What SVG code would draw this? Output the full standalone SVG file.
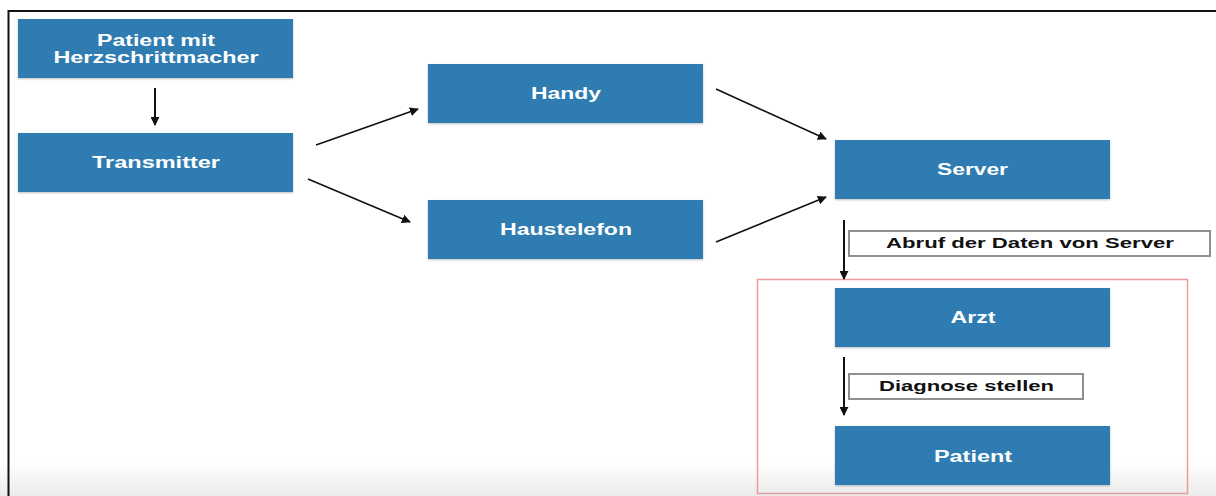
<svg xmlns="http://www.w3.org/2000/svg" width="1216" height="496" viewBox="0 0 1216 496">
  <style>
    .node rect { fill: #2f7bb1; }
    .node text { fill: #ffffff; font-family: "Liberation Sans", Arial, sans-serif; font-weight: bold; font-size: 16px; text-anchor: middle; }
    .edge { stroke: #111; stroke-width: 1.6; fill: none; marker-end: url(#arrow); }
    .edge.v { stroke-width: 2; }
    .tag rect { fill: #ffffff; stroke: #8f8f8f; stroke-width: 2; }
    .tag text { fill: #111; font-family: "Liberation Sans", Arial, sans-serif; font-weight: bold; font-size: 15.5px; text-anchor: middle; }
  </style>
  <defs>
    <marker id="arrow" viewBox="0 0 10 10" refX="9" refY="5" markerWidth="9" markerHeight="9" markerUnits="userSpaceOnUse" orient="auto">
      <path d="M0,0 L10,5 L0,10 z" fill="#111"/>
    </marker>
    <linearGradient id="floor" x1="0" y1="0" x2="0" y2="1">
      <stop offset="0" stop-color="#ffffff"/>
      <stop offset="1" stop-color="#ebebeb"/>
    </linearGradient>
    <filter id="shadow" x="-5%" y="-10%" width="110%" height="130%">
      <feDropShadow dx="0" dy="1" stdDeviation="1" flood-color="#000" flood-opacity="0.25"/>
    </filter>
  </defs>

  <rect x="0" y="0" width="1216" height="496" fill="#ffffff"/>
  <rect x="0" y="462" width="1216" height="34" fill="url(#floor)"/>

  <!-- page frame -->
  <path d="M8.5,496 L8.5,11 L1216,11" stroke="#111" stroke-width="2" fill="none"/>

  <!-- highlight around doctor and patient -->
  <rect x="757.5" y="279.5" width="430" height="214" fill="none" stroke="#eb9d9d" stroke-width="1.5"/>

  <g id="n-patient-hsm" class="node">
    <rect x="18" y="19" width="275" height="59" filter="url(#shadow)"/>
    <text x="156" y="46" textLength="118" lengthAdjust="spacingAndGlyphs">Patient mit</text>
    <text x="156" y="63" textLength="205" lengthAdjust="spacingAndGlyphs">Herzschrittmacher</text>
  </g>
  <g id="n-transmitter" class="node">
    <rect x="18" y="133" width="275" height="59" filter="url(#shadow)"/>
    <text x="156" y="168" textLength="128" lengthAdjust="spacingAndGlyphs">Transmitter</text>
  </g>
  <g id="n-handy" class="node">
    <rect x="428" y="64" width="275" height="59" filter="url(#shadow)"/>
    <text x="566" y="99" textLength="70" lengthAdjust="spacingAndGlyphs">Handy</text>
  </g>
  <g id="n-haustelefon" class="node">
    <rect x="428" y="200" width="275" height="59" filter="url(#shadow)"/>
    <text x="566" y="235" textLength="132" lengthAdjust="spacingAndGlyphs">Haustelefon</text>
  </g>
  <g id="n-server" class="node">
    <rect x="835" y="140" width="275" height="59" filter="url(#shadow)"/>
    <text x="972.5" y="175" textLength="71" lengthAdjust="spacingAndGlyphs">Server</text>
  </g>
  <g id="n-arzt" class="node">
    <rect x="835" y="288" width="275" height="59" filter="url(#shadow)"/>
    <text x="973" y="323" textLength="45" lengthAdjust="spacingAndGlyphs">Arzt</text>
  </g>
  <g id="n-patient" class="node">
    <rect x="835" y="426" width="275" height="59" filter="url(#shadow)"/>
    <text x="973" y="462" textLength="78" lengthAdjust="spacingAndGlyphs">Patient</text>
  </g>

  <g id="connectors">
    <line class="edge v" x1="155" y1="88" x2="155" y2="125"/>
    <line class="edge" x1="316" y1="145" x2="418" y2="109"/>
    <line class="edge" x1="308" y1="179" x2="410" y2="222"/>
    <line class="edge" x1="716" y1="89" x2="826" y2="139"/>
    <line class="edge" x1="716" y1="242" x2="826" y2="197"/>
    <line class="edge v" x1="844" y1="220" x2="844" y2="279"/>
    <line class="edge v" x1="844" y1="357" x2="844" y2="415"/>
  </g>

  <g id="tag-abruf" class="tag">
    <rect x="849" y="231" width="361" height="25"/>
    <text x="1030" y="248" textLength="288" lengthAdjust="spacingAndGlyphs">Abruf der Daten von Server</text>
  </g>
  <g id="tag-diagnose" class="tag">
    <rect x="849" y="374" width="234" height="25"/>
    <text x="966.5" y="391" textLength="175" lengthAdjust="spacingAndGlyphs">Diagnose stellen</text>
  </g>
</svg>
